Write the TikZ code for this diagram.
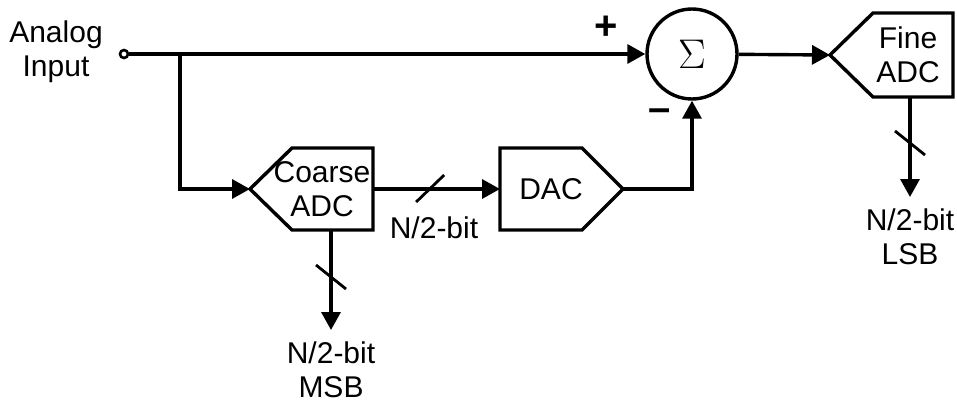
\documentclass[tikz,border=0pt]{standalone}
\usepackage{fontspec}
\setmainfont{Liberation Sans}
\usetikzlibrary{arrows.meta,calc}

\begin{document}
\begin{tikzpicture}[x=0.5pt, y=-0.5pt, line width=1.7pt,
  >={Triangle[length=9pt,width=9.5pt]},
  lbl/.style={font=\fontsize{15}{17}\selectfont, align=center, inner sep=0pt},
  outlbl/.style={lbl, anchor=north, inner sep=5pt},
  sign/.style={font=\fontsize{20}{20}\selectfont\bfseries, inner sep=0pt},
  slash/.style={line width=1.4pt}]

  \useasboundingbox (0,0) rectangle (957,401);

  % --- 1. 入力端子 ---
  \node[circle, draw, line width=1.3pt, inner sep=0pt, minimum size=4pt] (in) at (124,54) {};
  \node[lbl] (inlbl) at (56,52) {Analog\\Input};
  \coordinate (split) at (180,54);

  % --- 2. 加算器 ---
  \node[circle, draw, minimum size=45pt, inner sep=0pt,
        font=\fontsize{22}{24}\selectfont] (sum) at (692,54) {$\Sigma$};
  \node[sign] (plus) at (606,28) {+};
  \node[sign] (minus) at (660,115) {\textendash};

  % --- 3. Coarse ADC ---
  \coordinate (coarse-in) at (250,189);
  \coordinate (coarse-out) at (373,189);
  \coordinate (coarse-bot) at (331,230);
  \draw (coarse-in) -- (292,148) -- (373,148) -- (373,230) -- (292,230) -- cycle;
  \node[lbl] (coarse) at (322,189) {Coarse\\ADC};

  % --- 4. DAC ---
  \coordinate (dac-in) at (500,189);
  \coordinate (dac-out) at (623,189);
  \draw (dac-in) -- (500,148) -- (582,148) -- (dac-out) -- (582,230) -- (500,230) -- cycle;
  \node[lbl] (dac) at (551,189) {DAC};

  % --- 5. Fine ADC ---
  \coordinate (fine-in) at (830,55);
  \coordinate (fine-bot) at (910,97);
  \draw (fine-in) -- (873,13) -- (953,13) -- (953,97) -- (873,97) -- cycle;
  \node[lbl] (fine) at (908,55) {Fine\\ADC};

  % --- 6. 出力ラベル ---
  \node[outlbl] (msb) at (331,330) {N/2-bit\\MSB};
  \node[outlbl] (lsb) at (910,197) {N/2-bit\\LSB};
  \node[lbl] (midbit) at (434,228) {N/2-bit};

  % --- 7. 信号線 ---
  \draw[->] (in) -- (sum);
  \draw[->] (split) |- (coarse-in);
  \draw[->] (coarse-out) -- (dac-in);
  \draw[->] (dac-out) -| (sum);
  \draw[->] (sum) -- (fine-in);
  \draw[->] (coarse-bot) -- (msb.north);
  \draw[->] (fine-bot) -- (lsb.north);

  % --- 8. ビット幅の斜線 ---
  \path (coarse-out) -- (dac-in) coordinate[pos=0.45] (s1);
  \path (coarse-bot) -- (msb.north) coordinate[pos=0.47] (s2);
  \path (fine-bot) -- (lsb.north) coordinate[pos=0.46] (s3);
  \draw[slash] ($(s1)+(-14,13)$) -- ($(s1)+(14,-14)$);
  \draw[slash] ($(s2)+(-15,-12)$) -- ($(s2)+(15,12)$);
  \draw[slash] ($(s3)+(-15,-12)$) -- ($(s3)+(15,12)$);

\end{tikzpicture}
\end{document}
